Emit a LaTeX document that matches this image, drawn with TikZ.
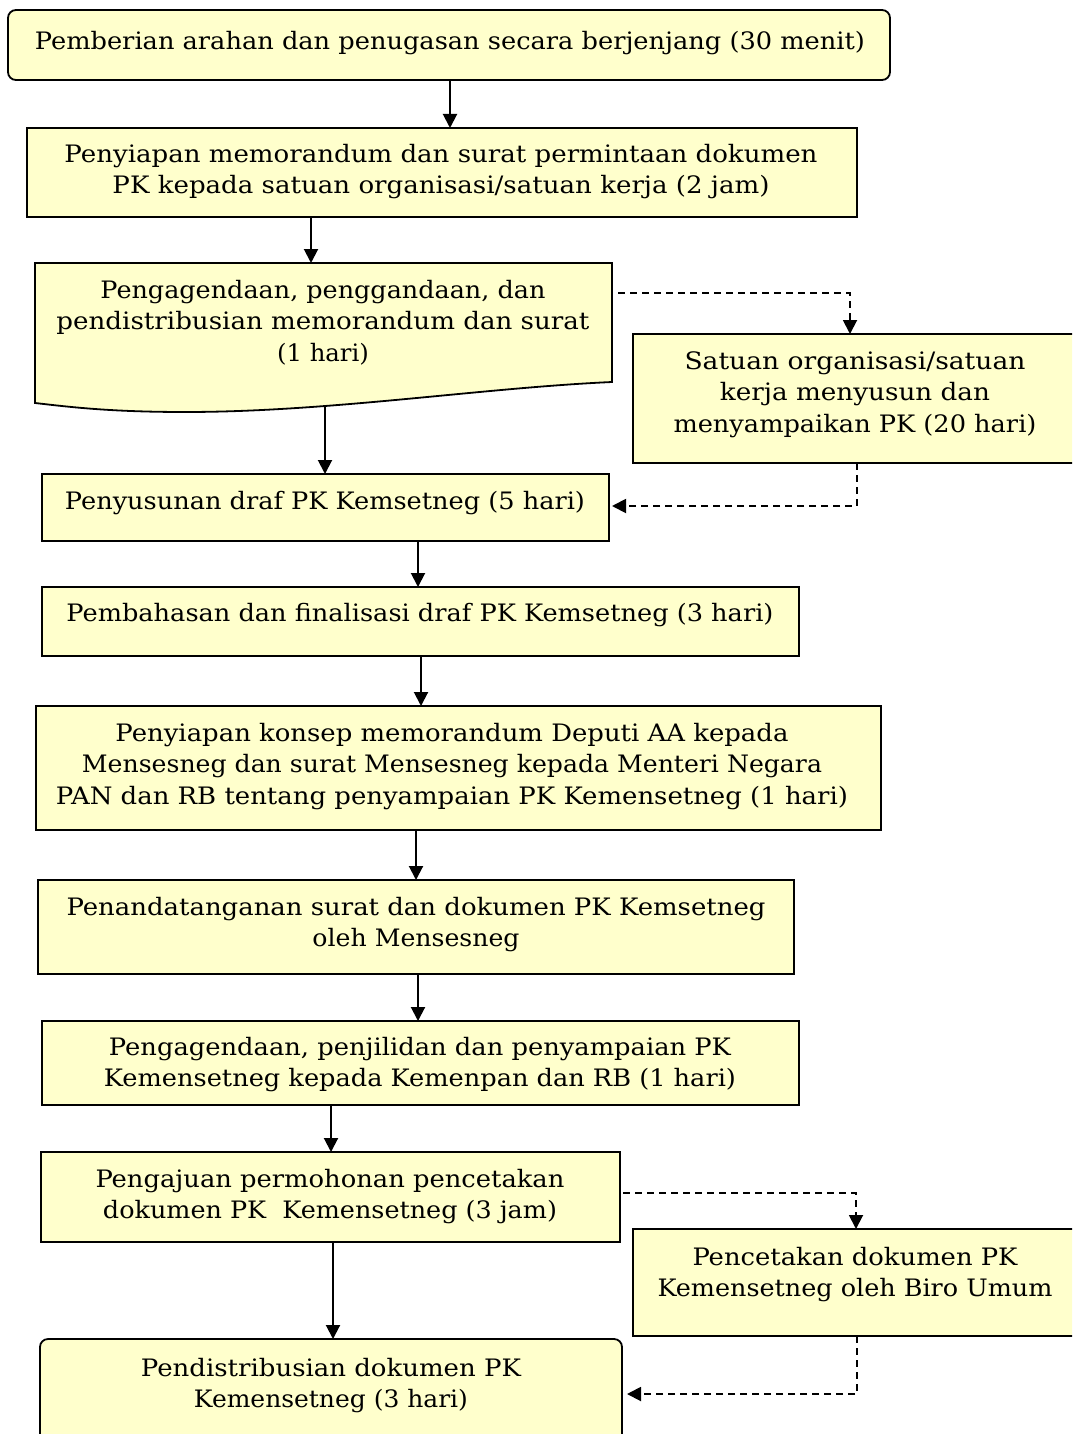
\documentclass[tikz,border=0pt]{standalone}
\usepackage{fontspec}
\setmainfont{DejaVu Serif}
\usepackage{graphicx}
\usetikzlibrary{arrows.meta}
\definecolor{boxfill}{RGB}{255,255,204}
\newcommand\Ln[2]{\rule[-9.5pt]{0pt}{31.5pt}\resizebox{#1pt}{\height}{#2}}
\tikzset{
  boxline/.style={draw=black, line width=1.8pt, fill=boxfill},
  box/.style={boxline, inner sep=0pt, outer sep=0pt},
  txt/.style={font=\fontsize{24}{31.5}\selectfont, align=center, inner sep=0pt, anchor=north},
  arr/.style={line width=2pt, -{Triangle[length=14pt,width=14pt]}},
  darr/.style={line width=1.9pt, dash pattern=on 7pt off 5pt, -{Triangle[length=14pt,width=14pt]}}
}
\begin{document}
\begin{tikzpicture}[x=1pt,y=-1pt]
\useasboundingbox (0,0) rectangle (1072,1434);
\clip (0,0) rectangle (1072,1434);

% boxes
\node[box, rounded corners=8pt, minimum width=882pt, minimum height=70pt] (b1) at (449,45) {};
\node[box, minimum width=830pt, minimum height=89pt] (b2) at (442,172.5) {};
\node[inner sep=0pt, outer sep=0pt, minimum width=577pt, minimum height=119pt] (b3) at (323.5,322.5) {};
\draw[boxline] (b3.north west) -- (b3.north east) -- (b3.south east)
  .. controls (480,388) and (330,412) .. (185,412)
  .. controls (110,412) and (70,407) .. (b3.west |- 0,403) -- cycle;
\coordinate (b3out) at (325,407);
\node[box, minimum width=447pt, minimum height=129pt] (b4) at (856.5,398.5) {};
\node[box, minimum width=567pt, minimum height=67pt] (b5) at (325.5,507.5) {};
\node[box, minimum width=757pt, minimum height=69pt] (b6) at (420.5,621.5) {};
\node[box, minimum width=845pt, minimum height=124pt] (b7) at (458.5,768) {};
\node[box, minimum width=756pt, minimum height=94pt] (b8) at (416,927) {};
\node[box, minimum width=757pt, minimum height=84pt] (b9) at (420.5,1063) {};
\node[box, minimum width=579pt, minimum height=90pt] (b10) at (330.5,1197) {};
\node[box, minimum width=447pt, minimum height=107pt] (b11) at (856.5,1282.5) {};
\node[box, rounded corners=8pt, minimum width=582pt, minimum height=106pt] (b12) at (331,1392) {};

% texts
\node[txt] (t1) at (450,27) {\Ln{830}{Pemberian arahan dan penugasan secara berjenjang (30 menit)}};
\node[txt] (t2) at (441,140) {\Ln{753}{Penyiapan memorandum dan surat permintaan dokumen}\\
  \Ln{657}{PK kepada satuan organisasi/satuan kerja (2 jam)}};
\node[txt] (t3) at (323,276) {\Ln{445}{Pengagendaan, penggandaan, dan}\\
  \Ln{533}{pendistribusian memorandum dan surat}\\ \Ln{92}{(1 hari)}};
\node[txt] (t4) at (855,347) {\Ln{341}{Satuan organisasi/satuan}\\
  \Ln{270}{kerja menyusun dan}\\ \Ln{363}{menyampaikan PK (20 hari)}};
\node[txt] (t5) at (325,487) {\Ln{520}{Penyusunan draf PK Kemsetneg (5 hari)}};
\node[txt] (t6) at (420,599) {\Ln{707}{Pembahasan dan finalisasi draf PK Kemsetneg (3 hari)}};
\node[txt] (t7) at (452,719) {\Ln{673}{Penyiapan konsep memorandum Deputi AA kepada}\\
  \Ln{740}{Mensesneg dan surat Mensesneg kepada Menteri Negara}\\
  \Ln{792}{PAN dan RB tentang penyampaian PK Kemensetneg (1 hari)}};
\node[txt] (t8) at (416,893) {\Ln{699}{Penandatanganan surat dan dokumen PK Kemsetneg}\\
  \Ln{207}{oleh Mensesneg}};
\node[txt] (t9) at (420,1033) {\Ln{622}{Pengagendaan, penjilidan dan penyampaian PK}\\
  \Ln{632}{Kemensetneg kepada Kemenpan dan RB (1 hari)}};
\node[txt] (t10) at (330,1165) {\Ln{469}{Pengajuan permohonan pencetakan}\\
  \Ln{454}{dokumen PK\ \ Kemensetneg (3 jam)}};
\node[txt] (t11) at (855,1243) {\Ln{325}{Pencetakan dokumen PK}\\
  \Ln{395}{Kemensetneg oleh Biro Umum}};
\node[txt] (t12) at (331,1354) {\Ln{380}{Pendistribusian dokumen PK}\\
  \Ln{274}{Kemensetneg (3 hari)}};

% solid connectors
\draw[arr] (b1.south -| 450,0) -- (b2.north -| 450,0);
\draw[arr] (b2.south -| 311,0) -- (b3.north -| 311,0);
\draw[arr] (b3out) -- (b5.north -| 325,0);
\draw[arr] (b5.south -| 418,0) -- (b6.north -| 418,0);
\draw[arr] (b6.south -| 421,0) -- (b7.north -| 421,0);
\draw[arr] (b7.south -| 416,0) -- (b8.north -| 416,0);
\draw[arr] (b8.south -| 418,0) -- (b9.north -| 418,0);
\draw[arr] (b9.south -| 331,0) -- (b10.north -| 331,0);
\draw[arr] (b10.south -| 333,0) -- (b12.north -| 333,0);

% dashed connectors
\draw[darr] ([xshift=6pt]b3.east |- 0,293) -- (850,293) -- (b4.north -| 850,0);
\draw[darr] (b4.south -| 857,0) -- (857,506) -- ([xshift=3pt]b5.east |- 0,506);
\draw[darr] ([xshift=3pt]b10.east |- 0,1193) -- (856,1193) -- (b11.north -| 856,0);
\draw[darr] (b11.south -| 857,0) -- (857,1394) -- ([xshift=5pt]b12.east |- 0,1394);
\end{tikzpicture}
\end{document}
